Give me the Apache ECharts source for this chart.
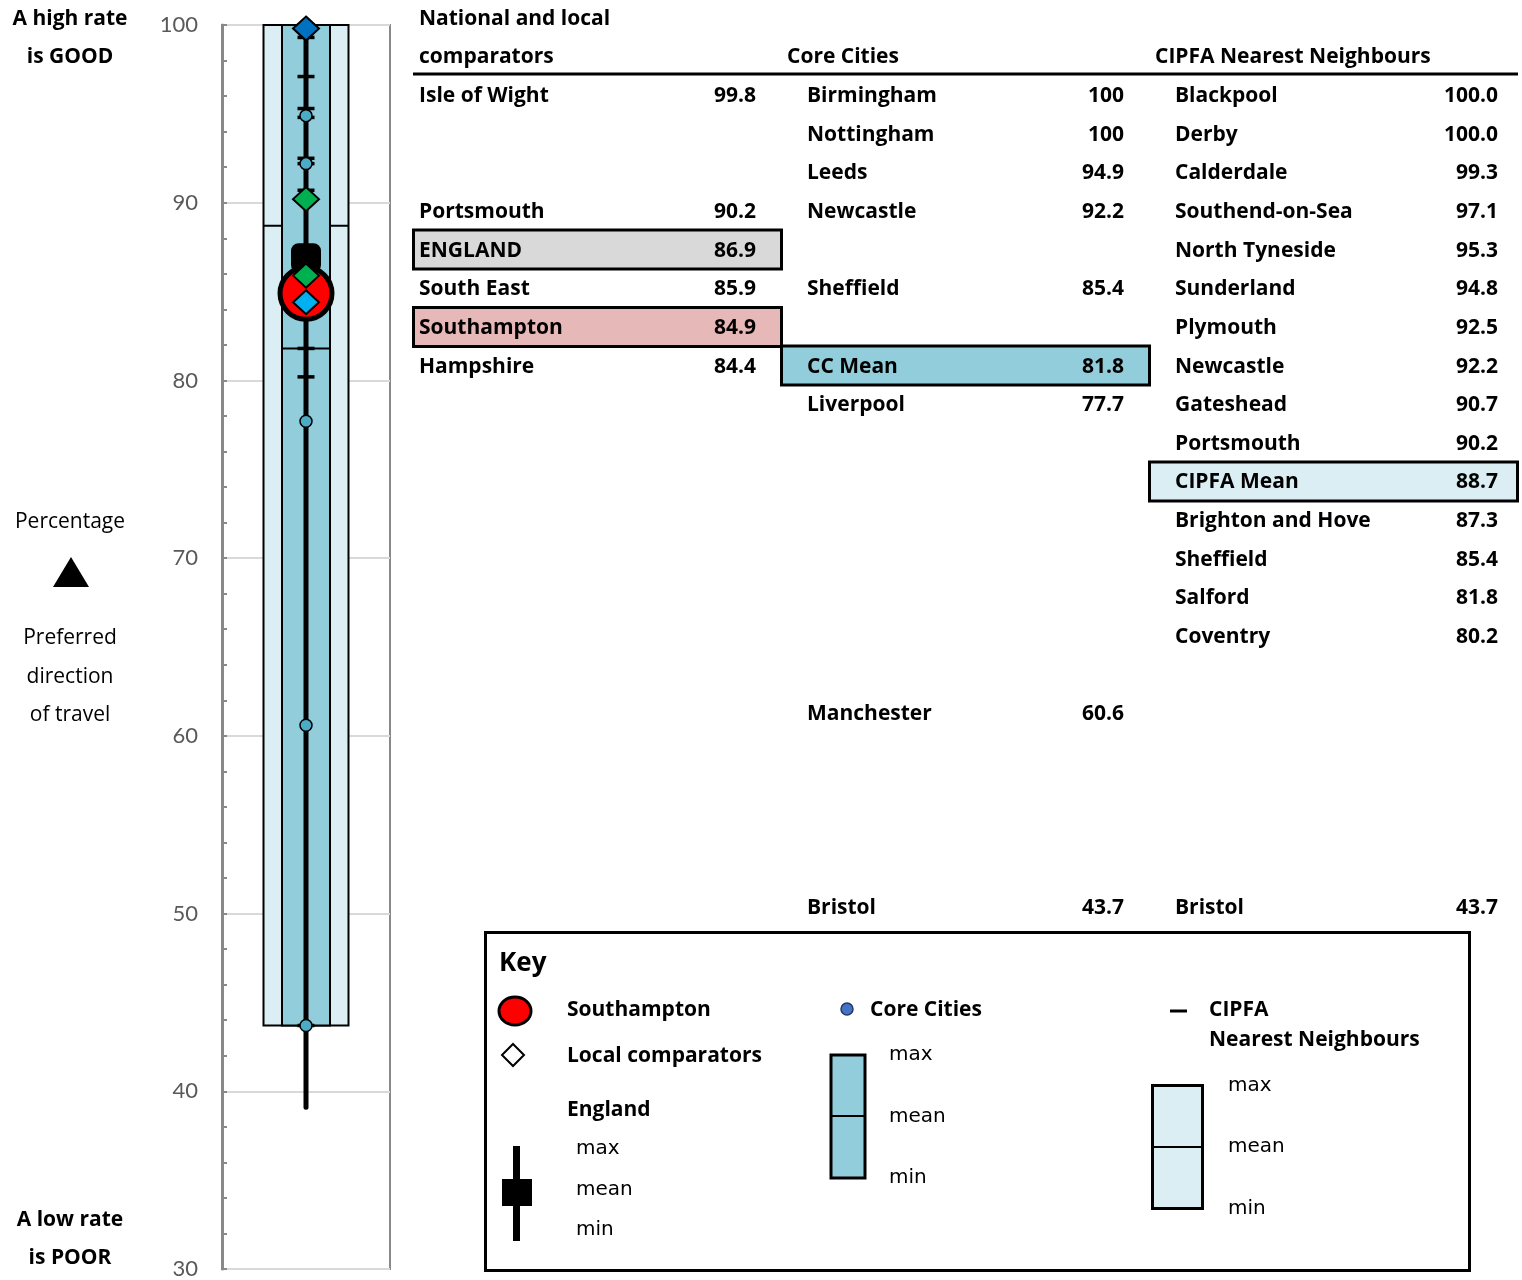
<!DOCTYPE html>
<html><head><meta charset="utf-8">
<script src="https://cdn.jsdelivr.net/npm/echarts@6/dist/echarts.min.js"></script>
<style>html,body{margin:0;padding:0;background:#fff}#c{width:1522px;height:1280px}</style>
</head><body><div id="c"></div>
<script>
// ---------------- DATA ----------------
const nationalNames  = ['Isle of Wight', 'Portsmouth', 'ENGLAND', 'South East', 'Southampton', 'Hampshire'];
const nationalValues = [99.8, 90.2, 86.9, 85.9, 84.9, 84.4];

const coreNames  = ['Birmingham', 'Nottingham', 'Leeds', 'Newcastle', 'Sheffield', 'CC Mean', 'Liverpool', 'Manchester', 'Bristol'];
const coreValues = [100, 100, 94.9, 92.2, 85.4, 81.8, 77.7, 60.6, 43.7];

const cipfaNames  = ['Blackpool', 'Derby', 'Calderdale', 'Southend-on-Sea', 'North Tyneside', 'Sunderland', 'Plymouth', 'Newcastle', 'Gateshead', 'Portsmouth', 'CIPFA Mean', 'Brighton and Hove', 'Sheffield', 'Salford', 'Coventry', 'Bristol'];
const cipfaValues = [100.0, 100.0, 99.3, 97.1, 95.3, 94.8, 92.5, 92.2, 90.7, 90.2, 88.7, 87.3, 85.4, 81.8, 80.2, 43.7];

const englandRange = [39.1, 100];          // England min, max
const yTicks = [30, 40, 50, 60, 70, 80, 90, 100];

// ---------------- LAYOUT / STYLE ----------------
const nationalRows = [0, 3, 4, 5, 6, 7];
const coreRows     = [0, 1, 2, 3, 5, 7, 8, 16, 21];
const cipfaRows    = [0, 1, 2, 3, 4, 5, 6, 7, 8, 9, 10, 11, 12, 13, 14, 21];
const localColors  = {'Isle of Wight': '#0070c0', 'Portsmouth': '#00b050', 'South East': '#00b050', 'Hampshire': '#00b0f0'};
const FONT = '"Open Sans", Lato, sans-serif';
const AXISFONT = 'Lato, "Open Sans", sans-serif';
const CX = 1; // centre of the single column on the hidden x axis

// derived values
const englandMean = nationalValues[nationalNames.indexOf('ENGLAND')];
const southampton = nationalValues[nationalNames.indexOf('Southampton')];
const coreMean = coreValues[coreNames.indexOf('CC Mean')];
const coreMembers = coreValues.filter((v, i) => coreNames[i] !== 'CC Mean');
const cipfaMean = cipfaValues[cipfaNames.indexOf('CIPFA Mean')];
const cipfaMembers = cipfaValues.filter((v, i) => cipfaNames[i] !== 'CIPFA Mean');
const localNames = nationalNames.filter(n => localColors[n]);

// ---------------- CHART ----------------
const chart = echarts.init(document.getElementById('c'), null, {renderer: 'canvas'});

function boxSeries(name, stats, width, fill, z) {
  return {
    type: 'custom', name, z,
    data: [[CX, stats[0], stats[1], stats[2]]],
    renderItem(params, api) {
      const top = api.coord([CX, api.value(3)]);
      const bot = api.coord([CX, api.value(1)]);
      const mid = api.coord([CX, api.value(2)]);
      const x0 = top[0] - width / 2;
      return {type: 'group', children: [
        {type: 'rect', shape: {x: x0, y: top[1], width: width, height: bot[1] - top[1]},
         style: {fill: fill, stroke: '#000', lineWidth: 2}},
        {type: 'line', shape: {x1: x0, y1: mid[1], x2: x0 + width, y2: mid[1]},
         style: {stroke: '#000', lineWidth: 2}}
      ]};
    }
  };
}

const series = [
  boxSeries('CIPFA box', [Math.min(...cipfaMembers), cipfaMean, Math.max(...cipfaMembers)], 85, '#daeef3', 1),
  boxSeries('Core box', [Math.min(...coreMembers), coreMean, Math.max(...coreMembers)], 48, '#92cddc', 2),
  {
    type: 'custom', name: 'England range', z: 3,
    data: [[CX, englandRange[0], englandRange[1]]],
    renderItem(params, api) {
      const a = api.coord([CX, api.value(1)]);
      const b = api.coord([CX, api.value(2)]);
      return {type: 'line', shape: {x1: a[0], y1: a[1], x2: b[0], y2: b[1]},
              style: {stroke: '#000', lineWidth: 5, lineCap: 'round'}};
    }
  },
  {
    type: 'scatter', name: 'CIPFA', z: 4, silent: true,
    symbol: 'rect', symbolSize: [17, 3.5],
    itemStyle: {color: '#000', opacity: 1},
    data: cipfaMembers.map(v => [CX, v])
  },
  {
    type: 'scatter', name: 'Core Cities', z: 5, silent: true,
    symbol: 'circle', symbolSize: 12,
    itemStyle: {color: '#4bacc6', borderColor: '#000', borderWidth: 1.5, opacity: 1},
    data: coreMembers.map(v => [CX, v])
  },
  {
    type: 'scatter', name: 'England mean', z: 6, silent: true,
    symbol: 'roundRect', symbolSize: [30, 29],
    itemStyle: {color: '#000', opacity: 1},
    data: [[CX, englandMean]]
  },
  {
    type: 'scatter', name: 'Southampton', z: 7, silent: true,
    symbol: 'circle', symbolSize: 52,
    itemStyle: {color: '#ff0000', borderColor: '#000', borderWidth: 5, opacity: 1},
    data: [[CX, southampton]]
  },
  {
    type: 'scatter', name: 'Local comparators', z: 8, silent: true,
    symbol: 'diamond', symbolSize: [26, 24],
    itemStyle: {borderColor: '#000', borderWidth: 2, opacity: 1},
    data: localNames.map(n => ({value: [CX, nationalValues[nationalNames.indexOf(n)]],
                                 itemStyle: {color: localColors[n]}}))
  }
];

// ---------------- GRAPHIC (side texts, table, key) ----------------
const g = [];
function txt(x, y, s, o = {}) {
  g.push({type: 'text', x, y, z: 10, silent: true, style: {
    text: s, fill: o.color || '#000',
    font: (o.bold === false ? '' : 'bold ') + (o.size || 21) + 'px ' + (o.font || FONT),
    align: o.align || 'left', verticalAlign: 'middle'}});
}
function rect(x, y, w, h, fill, stroke, lw) {
  g.push({type: 'rect', z: 9, silent: true, shape: {x, y, width: w, height: h},
          style: {fill: fill || 'none', stroke: stroke || null, lineWidth: lw || 0}});
}

// left annotations
txt(70, 19, 'A high rate', {align: 'center'});
txt(70, 57, 'is GOOD', {align: 'center'});
txt(70, 522, 'Percentage', {align: 'center', bold: false});
g.push({type: 'polygon', silent: true, shape: {points: [[71, 557], [53, 587], [89, 587]]}, style: {fill: '#000'}});
txt(70, 638, 'Preferred', {align: 'center', bold: false});
txt(70, 677, 'direction', {align: 'center', bold: false});
txt(70, 715, 'of travel', {align: 'center', bold: false});
txt(70, 1220, 'A low rate', {align: 'center'});
txt(70, 1258, 'is POOR', {align: 'center'});

// table
const ROW0 = 96, ROWH = 38.65;
const rowY = r => ROW0 + r * ROWH;
txt(419, 19, 'National and local');
txt(419, 57, 'comparators');
txt(787, 57, 'Core Cities');
txt(1155, 57, 'CIPFA Nearest Neighbours');
g.push({type: 'line', silent: true, shape: {x1: 413, y1: 74, x2: 1518, y2: 74}, style: {stroke: '#000', lineWidth: 3}});

// highlighted cells
rect(413.5, rowY(nationalRows[nationalNames.indexOf('ENGLAND')]) - 20.5, 368, 39, '#d9d9d9', '#000', 3);
rect(413.5, rowY(nationalRows[nationalNames.indexOf('Southampton')]) - 20.5, 368, 39, '#e6b8b7', '#000', 3);
rect(781.5, rowY(coreRows[coreNames.indexOf('CC Mean')]) - 20.5, 368, 39, '#92cddc', '#000', 3);
rect(1149.5, rowY(cipfaRows[cipfaNames.indexOf('CIPFA Mean')]) - 20.5, 368, 39, '#daeef3', '#000', 3);

nationalNames.forEach((n, i) => {
  txt(419, rowY(nationalRows[i]), n);
  txt(756, rowY(nationalRows[i]), nationalValues[i].toFixed(1), {align: 'right'});
});
coreNames.forEach((n, i) => {
  txt(807, rowY(coreRows[i]), n);
  txt(1124, rowY(coreRows[i]), String(coreValues[i]), {align: 'right'});
});
cipfaNames.forEach((n, i) => {
  txt(1175, rowY(cipfaRows[i]), n);
  txt(1498, rowY(cipfaRows[i]), cipfaValues[i].toFixed(1), {align: 'right'});
});

// key
rect(485.5, 932.5, 984, 338, '#fff', '#000', 3);
txt(499, 964, 'Key', {size: 26});
g.push({type: 'ellipse', silent: true, z: 10, shape: {cx: 515, cy: 1011, rx: 16, ry: 14}, style: {fill: '#ff0000', stroke: '#000', lineWidth: 3}});
txt(567, 1010, 'Southampton');
g.push({type: 'polygon', silent: true, z: 10, shape: {points: [[513, 1044], [524, 1055], [513, 1066], [502, 1055]]}, style: {fill: '#fff', stroke: '#000', lineWidth: 2}});
txt(567, 1056, 'Local comparators');
txt(567, 1110, 'England');
g.push({type: 'rect', silent: true, z: 10, shape: {x: 513, y: 1146, width: 7, height: 95}, style: {fill: '#000'}});
g.push({type: 'rect', silent: true, z: 10, shape: {x: 502, y: 1179, width: 30, height: 27}, style: {fill: '#000'}});
const KF = '"DejaVu Sans", sans-serif';
txt(576, 1149, 'max', {bold: false, size: 20, font: KF});
txt(576, 1190, 'mean', {bold: false, size: 20, font: KF});
txt(576, 1230, 'min', {bold: false, size: 20, font: KF});

g.push({type: 'circle', silent: true, z: 10, shape: {cx: 847, cy: 1009, r: 6}, style: {fill: '#4472c4', stroke: '#1f3864', lineWidth: 1.5}});
txt(870, 1010, 'Core Cities');
g.push({type: 'rect', silent: true, z: 10, shape: {x: 831, y: 1055, width: 34, height: 123}, style: {fill: '#92cddc', stroke: '#000', lineWidth: 3}});
g.push({type: 'line', silent: true, z: 10, shape: {x1: 831, y1: 1116, x2: 865, y2: 1116}, style: {stroke: '#000', lineWidth: 2}});
txt(889, 1055, 'max', {bold: false, size: 20, font: KF});
txt(889, 1117, 'mean', {bold: false, size: 20, font: KF});
txt(889, 1178, 'min', {bold: false, size: 20, font: KF});

g.push({type: 'line', silent: true, z: 10, shape: {x1: 1170, y1: 1011, x2: 1187, y2: 1011}, style: {stroke: '#000', lineWidth: 3}});
txt(1209, 1010, 'CIPFA');
txt(1209, 1040, 'Nearest Neighbours');
g.push({type: 'rect', silent: true, z: 10, shape: {x: 1152.5, y: 1085.5, width: 50, height: 123}, style: {fill: '#daeef3', stroke: '#000', lineWidth: 3}});
g.push({type: 'line', silent: true, z: 10, shape: {x1: 1152, y1: 1147, x2: 1203, y2: 1147}, style: {stroke: '#000', lineWidth: 2}});
txt(1228, 1086, 'max', {bold: false, size: 20, font: KF});
txt(1228, 1147, 'mean', {bold: false, size: 20, font: KF});
txt(1228, 1209, 'min', {bold: false, size: 20, font: KF});

chart.setOption({
  animation: false,
  backgroundColor: '#fff',
  grid: {left: 222, top: 25, width: 168, height: 1245, show: true, borderColor: '#898989', borderWidth: 2},
  xAxis: {type: 'value', min: 0, max: 2, show: false},
  yAxis: {
    type: 'value', min: yTicks[0], max: yTicks[yTicks.length - 1], interval: 10,
    axisLine: {show: true, lineStyle: {color: '#898989', width: 3}},
    axisTick: {show: true, inside: true, length: 5, lineStyle: {color: '#898989', width: 2}},
    minorTick: {show: true, splitNumber: 5, length: 5, lineStyle: {color: '#898989', width: 2}},
    splitLine: {show: true, lineStyle: {color: '#d9d9d9', width: 2}},
    axisLabel: {color: '#595959', fontSize: 22, fontFamily: AXISFONT, margin: 24,
                formatter: v => yTicks.includes(v) ? String(v) : ''}
  },
  series,
  graphic: g
});
</script>
</body></html>
